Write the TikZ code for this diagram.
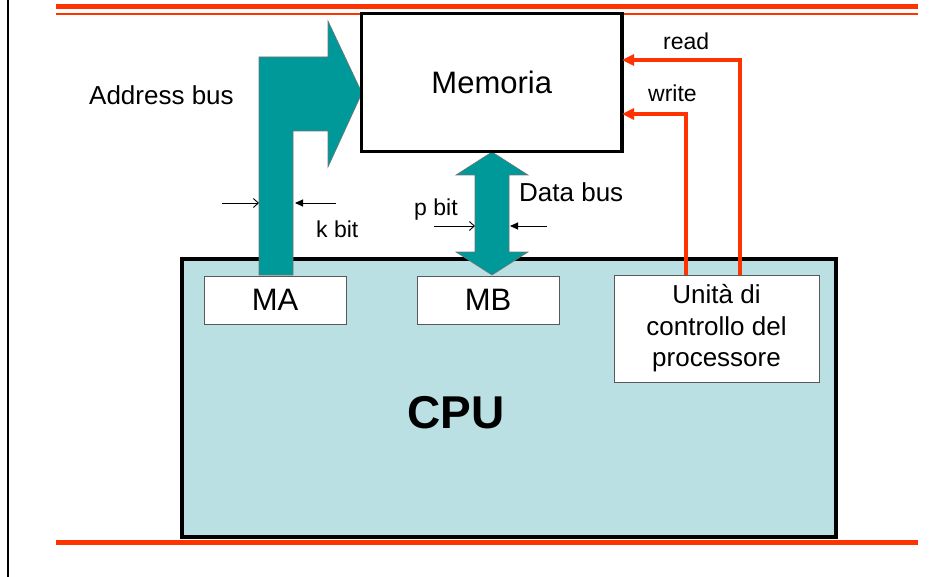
\documentclass[tikz,border=0pt]{standalone}
\usepackage{fontspec}
\setmainfont{Liberation Sans}
\usepackage{tikz}
\usetikzlibrary{arrows.meta}
\usetikzlibrary{positioning}

\definecolor{busteal}{HTML}{009999}
\definecolor{cpufill}{HTML}{BBE0E3}
\definecolor{ctlred}{HTML}{FF3300}

\tikzset{
	unit/.style={draw=black!65, line width=0.8pt, fill=white, inner sep=0pt, outer sep=0pt},
	bigtxt/.style={font=\fontsize{31}{35}\selectfont},
	midtxt/.style={font=\fontsize{26}{31.5}\selectfont},
	smalltxt/.style={font=\fontsize{23}{27}\selectfont, inner sep=0pt},
	bus/.style={fill=busteal, draw=black!55, line width=0.6pt},
	ctl/.style={draw=ctlred, line width=4pt, -{Triangle[length=12pt,width=11pt]}},
	rule/.style={draw=ctlred},
	openarr/.style={line width=0.9pt, -{Straight Barb[length=5pt,width=9pt]}},
	fillarr/.style={line width=0.9pt, -{Triangle[length=8pt,width=7pt]}}
}

\begin{document}
\begin{tikzpicture}[x=1pt, y=-1pt]
	\useasboundingbox (0,0) rectangle (952,577);

	\draw[line width=2pt] (8,0) -- (8,577);
	\draw[rule, line width=5pt] (56,6.5) -- (918,6.5);
	\draw[rule, line width=2pt] (56,14) -- (918,14);
	\draw[rule, line width=5pt] (56,542.5) -- (918,542.5);

	\node[draw, line width=4pt, fill=cpufill, inner sep=0pt, outer sep=0pt,
	      minimum width=654pt, minimum height=278pt] (cpu) at (509,398) {};

	\filldraw[bus] (259,275) -- (259,57) -- (328,57) -- (328,21) -- (362,93)
		-- (328,167) -- (328,131) -- (293,131) -- (293,275) -- cycle;
	\filldraw[bus] (492,152) -- (528,175) -- (509,175) -- (509,252) -- (528,252)
		-- (492,275) -- (456,252) -- (475,252) -- (475,175) -- (456,175) -- cycle;

	\node[draw, line width=3.5pt, fill=white, inner sep=0pt, outer sep=0pt,
	      minimum width=260.5pt, minimum height=138pt, bigtxt] (mem) at (491.75,82.5) {Memoria};

	\begin{scope}[every node/.style={unit}]
		\node[minimum width=142pt, minimum height=48pt, bigtxt] (ma) at (275,300) {MA};
		\node[minimum width=142pt, minimum height=48pt, bigtxt] (mb) at (488,300) {MB};
		\node[minimum width=205pt, minimum height=107pt, midtxt, align=center] (cu) at (716.5,328.5)
			{Unità di\\controllo del\\processore};
	\end{scope}

	\node[anchor=base west, font=\fontsize{46}{50}\selectfont\bfseries, inner sep=0pt] (cputxt) at (407,428) {CPU};

	\begin{scope}[every node/.style={anchor=base west}]
		\node[midtxt, inner sep=0pt] (addr) at (89,105) {Address bus};
		\node[midtxt, inner sep=0pt] (data) at (519,202) {Data bus};
		\node[smalltxt] (kbit) at (316,237) {k bit};
		\node[smalltxt] (pbit) at (414,216) {p bit};
		\node[smalltxt] (rd) at (663,50) {read};
		\node[smalltxt] (wr) at (648,102) {write};
	\end{scope}

	\coordinate (kin) at (222,203);
	\coordinate (kl) at (259,203);
	\coordinate (kout) at (336,203);
	\coordinate (kr) at (295,203);
	\coordinate (pin) at (434,226);
	\coordinate (pl) at (475,226);
	\coordinate (pout) at (547,226);
	\coordinate (pr) at (510,226);

	\draw[openarr] (kin) -- (kl);
	\draw[fillarr] (kout) -- (kr);
	\draw[openarr] (pin) -- (pl);
	\draw[fillarr] (pout) -- (pr);

	\draw[ctl] ([xshift=23pt]cu.north) |- ([yshift=22.5pt]mem.east);
	\draw[ctl] ([xshift=-31pt]cu.north) |- ([yshift=-31.5pt]mem.east);
\end{tikzpicture}
\end{document}
